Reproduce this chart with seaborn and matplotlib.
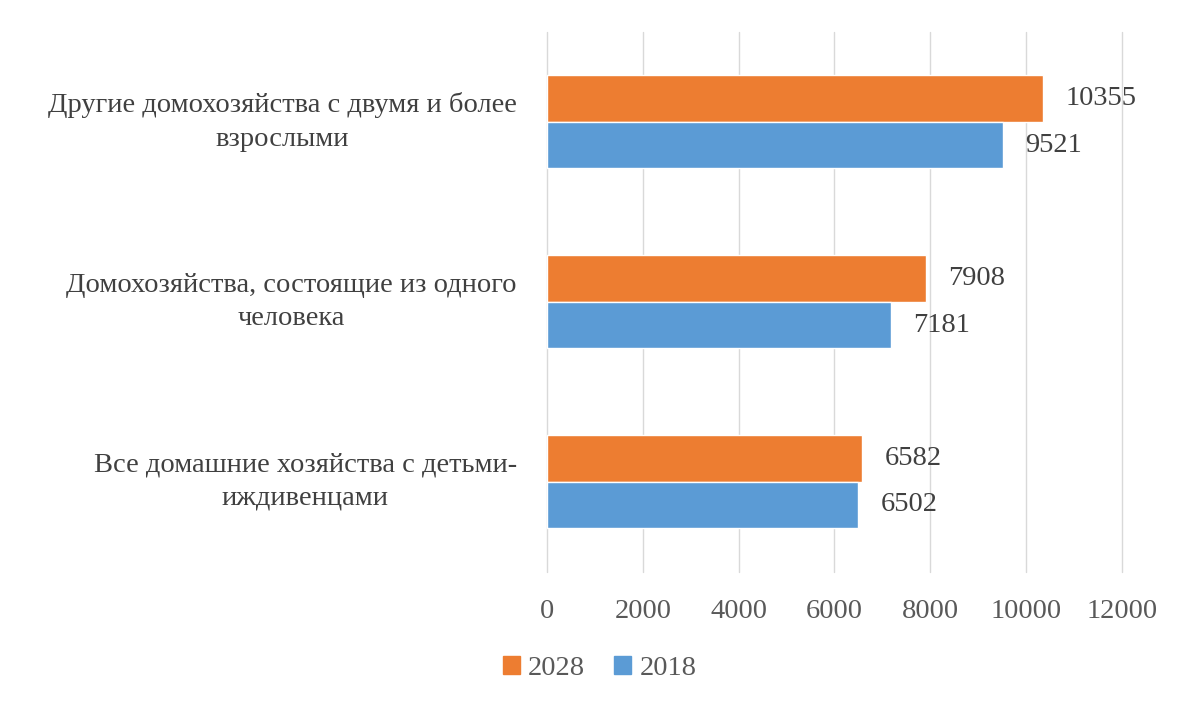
import pandas as pd
import matplotlib
matplotlib.use("Agg")
import matplotlib.pyplot as plt
import matplotlib.transforms as mtransforms
import seaborn as sns

categories = [
    "Другие домохозяйства с двумя и более\nвзрослыми",
    "Домохозяйства, состоящие из одного\nчеловека",
    "Все домашние хозяйства с детьми-\nиждивенцами",
]
years = ["2028", "2018"]
values_2028 = [10355, 7908, 6582]
values_2018 = [9521, 7181, 6502]
x_ticks = [0, 2000, 4000, 6000, 8000, 10000, 12000]

df = pd.DataFrame({
    "category": categories * 2,
    "year": [years[0]] * 3 + [years[1]] * 3,
    "value": values_2028 + values_2018,
})

sns.set_theme(style="white")
plt.rcParams["font.family"] = ["Liberation Serif", "DejaVu Serif"]

fs = 20.5
fig = plt.figure(figsize=(11.87, 7.11), dpi=100)
ax = fig.add_axes([0.461, 0.196, 0.484, 0.759])

palette = {"2028": "#ED7D31", "2018": "#5B9BD5"}
sns.barplot(data=df, x="value", y="category", hue="year", hue_order=years,
            palette=palette, orient="h", width=0.517, saturation=1,
            ax=ax, legend=False, zorder=3)

ax.set_xlim(0, 12000)
ax.set_ylim(2.5, -0.5)
ax.set_xticks(x_ticks)
ax.set_xticklabels([str(t) for t in x_ticks], fontsize=fs, color="#595959")
ax.tick_params(axis="x", length=0, pad=20)
ax.set_yticks(range(len(categories)))
ax.set_yticklabels([])
ax.tick_params(axis="y", length=0)
ax.set_xlabel("")
ax.set_ylabel("")
ax.grid(axis="x", color="#D9D9D9", linewidth=1, zorder=0)
for gl in ax.get_xgridlines():
    gl.set_clip_on(False)
for s in ax.spines.values():
    s.set_visible(False)

# category labels: right-aligned block, centred lines
trans = mtransforms.blended_transform_factory(fig.transFigure, ax.transData)
for i, cat in enumerate(categories):
    ax.text(517 / 1187, i, cat, transform=trans, ha="right", va="center",
            multialignment="center", fontsize=fs, color="#404040",
            linespacing=1.45)

for container in ax.containers:
    ax.bar_label(container, padding=16, fontsize=fs, color="#404040")

handles = [plt.Rectangle((0, 0), 1, 1, color=palette[y]) for y in years]
fig.legend(handles, years, loc="center", bbox_to_anchor=(0.505, 0.06), ncol=2,
           frameon=False, fontsize=fs, handlelength=0.6, handleheight=0.6,
           handletextpad=0.3, columnspacing=1.0, labelcolor="#595959")

fig.savefig("out.png", dpi=100)
